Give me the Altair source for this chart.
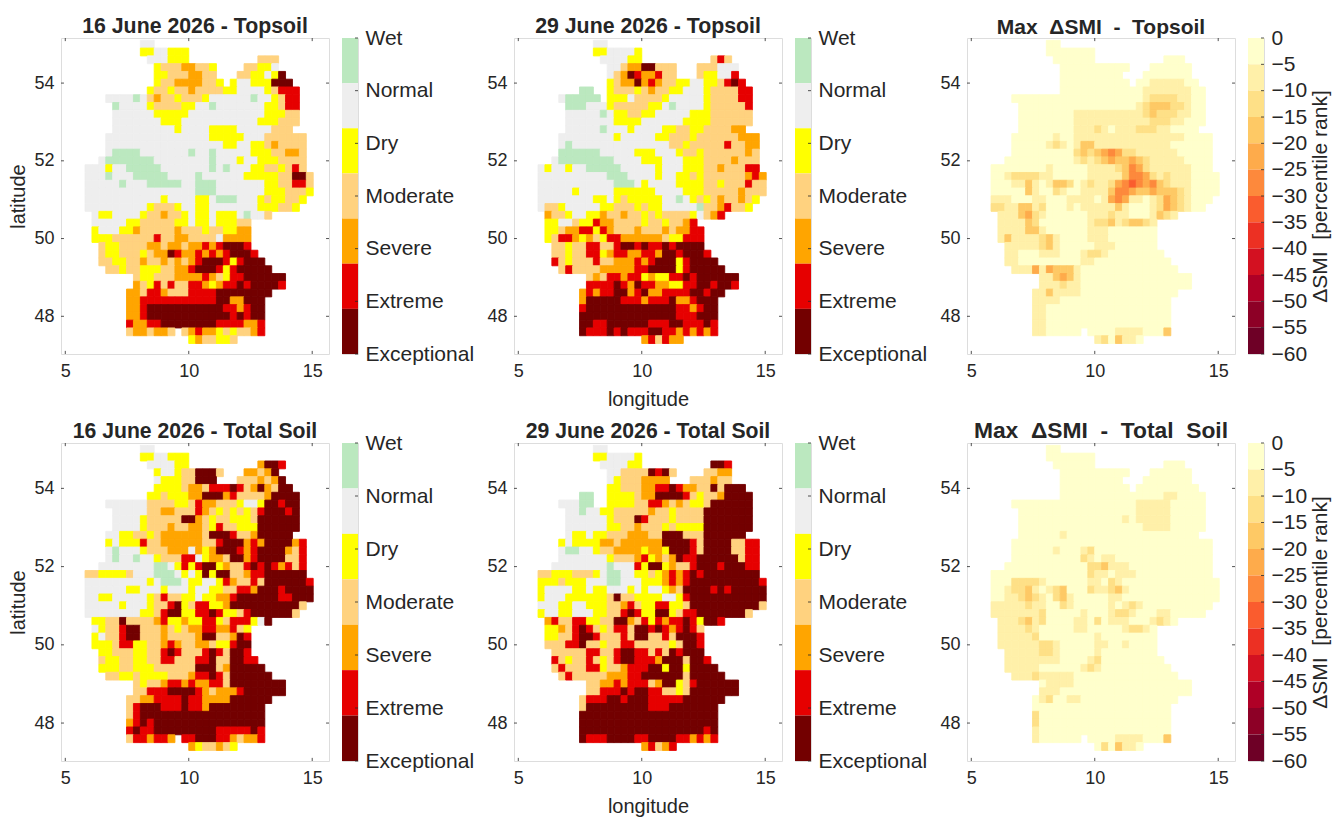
import altair as alt
import pandas as pd

LON0, DLON = 5.8, 0.28
LAT0, DLAT = 55.1, 0.2

TOP_JUN16 = [
"........NN",
"........DDNNDDD",
".........NNNDDD..........MMM",
"..........DMMMSSMMD....MMDDN",
"..........DDMMMSSMM...MMDDNDX",
"..........DMMSSSSMMD.DNNDDDXXX",
".........DMMDMMSMMMMDDNNNNDMEEE",
"...NNNNWNMSMMDMMMDNNNNNNWNNDMEE",
"....WNNNNDMMMMDDNNWNNNNNNNDDMEE",
"....NNNNNNDDDDDNNNNNNNNNNNDDDMM",
"....NNNNNNNDDDNNNNNNNNNNNDDDMMM",
"....NNNNNNNNNDNNNNDDDDNNNNNMMM",
"...NNNNNNNNNNNNNNNDDDDDNNNMMMMMM",
"...NNNNNNNNNNNNNNNNNDDNNDDMSMMMM",
"...NWWWWNNNNNNNWNNWNNNNNDDDMMSSM",
"..NWWWWWWWNNNNNNNNWNNNDNNDDDMMMM",
"NNNDNNWWWWWNNNNNNNWNWNNNDDMMDMEM",
"NNNWNNNWWWWWNNNNWNNNNNNDDDDDMMXXM",
"NNNNNWNNNWWWWWNNWWWNNNNNNNDDMMEEM",
"NNNNNNNNNNNNNNNNWWWNNNNNNNDDDMMMD",
"NNNNNNNNNNNDNNNNDDNWWWNNNDMDDMMD",
"NNNNNNNNNDMMMDNNDDNNNNNNNDDDMMD",
".NDDNNNNDMMSMMDNDDNDDDNWNNM",
".NNNNNDDMMMMMDDNDDNDDDMM",
".DNNNDDSMMMMMSMMMDMMDDSS",
".DDDMMMMMMEMMSSMMMMNSSSS",
"..MDDMMMMSSMSSMSSESEXXXE",
"..MDDMMMDMSSXESSESESEXXXE",
"..MMDDMMSMMSMSMSEXXXEDEXXX",
"...MMDMMDDDMMSSEXXXEDEXXXXX",
".......MDDMMMSSSSESMDEEXXXXXX",
".......SMDEMEMMEESDSEEXEXXXXE",
"......SSMEESMMMEEEEXXXXXXXX",
"......SSEEEEEEEEEEEXXSSXXX",
"......SSEXXXXXXXXXXXEESEXX",
"......SSEXXXXXXXXXXXXEXEXX",
"......ESSEEXXXXXXXXEEEESSE",
"......MSSMSSM.MSESSDMDMMSE",
"...............DSMMDDM",
]

TOP_JUN29 = [
"........NN",
"........DDNNNND",
".........NNNNDD..........MEM",
"..........NNMSSXXMMM...MMMNNN",
"..........NMSXESSEMM...MDDNNE",
"..........DMSSXSESMMDDNNDDMEXE",
"......WW..DMMMDMSMMDDNNNDMMMMEE",
"...NWWWWW.DDDNMMMMDNNNNNDMMMMEE",
"....WWWNNNDMMMMMDDNWNNNNDMMMMME",
"....NNNNNWNDDMMDDNNNNNDDDMMMMMM",
"....NNNNNNNDDDDNNNNNNDDDDMMMMMM",
"....NNNNNWNNNDNNNNDDMMDDMMMMSS",
"...NNNNNNNNDNNNNNDDMMMDMMMMMMSSS",
"...NWNNNNNNNNNNNNNNMMDMMMMMEMMSS",
"...WWWWWWNNNNNDDDNNNDMMDMMMMMMSM",
"..NWWWWWWWWNNNNDDDNNNDDDMMMMSMMM",
"NDNNDNNWWWWWNNNNNDNNNDDDMMSMMMEE",
"NNNNNNNNNNWWWNNNNDNNDDMDMMMMMMSES",
"NNNNNNNNNNNWWWNDNNNNDDDDMMDMMMEMM",
"NNNNNDNNNNNDDDDDDNNNNDDDMMMMMSMMM",
"NNNNNNNNDDNDMDDDDDNNWNDMDMSMMSMD",
"NMMDNNNNNDDMMMDMDDNNNNNWMMSEMMD",
".SMMDNNDDSMMSMMDMDMMMMDNMSE",
".DDNNMDDESSMMMMDMMDMMSE",
".DDMSSEEDESMMMSMMMSMSSEE",
".DMEESDSMDEESSSSSSMDDEEE",
"..MMDMMEEMMEXXEXEEXEXXXX",
"..MMDMMEEDSEESSEESXXEXXXE",
"..EMDMMMEMMSSSESEXXXDEXXXX",
"...MEMMMMSSSSSEEXXXXDEXXXXX",
".......MSMEESEEDSDDEEXEXXXXXX",
".......EEEEXESXEESSDDEEXXEXXE",
"......SESEEXXSEXSSEEEEXXEXX",
"......SXXXXXEEESEEEXSSEXXX",
"......EXXXXXXXXXXXXXEESEXX",
"......XXXXXXXXXXXXXXEEEXXX",
"......XXEEXXXXXXEEEXXEEEXE",
"......XEEEXEXEEEXXEESESESE",
"...............SEMESS",
]

TOTAL_JUN16 = [
"........NN",
"........DDNNDDD",
".........NNNNDD..........SXXE",
"..........DNNDMMXXXM...SSMSX",
"..........NDDDMMXXX...MMMSMSX",
"..........DDDDMSSMEEEXEMSXSMXX",
".........DDMDDDSSXXXSEMMMMSXXXX",
"...NNNNNNMMMMDDMESSMMMDNNDXXEXX",
"....NNNNNMMSSMMMESMDMDMDMEXXXEX",
"....NNNNDMMMMMXXSMDMMDDDMXXXXXX",
"....NNNNDMMMSMMSSMDEMMDDDXXXXXX",
"...NNDDMMDMSSSSSSMXXXEMMSXXXXX",
"...DNDDDEMMSSSSSSMMEXXXSESXXXXSE",
"...NWNNNDMMMSSSNSDSXXXESEXXXXSME",
"...NWNNWNNDMMMEENDSSMXXSEXXXXMME",
"..NNNNNNNNWWNDEDEXXDSMMEXEXESEME",
"MMDDDDMNNNWWWNDNDXDXXMMSEEXXXXXX",
"NNNNNNNNNDNWWWNDDNNDESMMEMXXXXXXE",
"NNNNNNDDNNNDNNNDNNDDMMEESXXXEXXXX",
"NNDDNNNNNDMEMMDDNDDSSEXXXXXXEEXXX",
"NNNNNDNNNDMMEXDMEEDDSXXXXXXXXXXM",
"NNNNNNNNDDMEXXDDEEXEDDMEXXXXXXM",
".DDMMXMMMMSEDDSDDEEDMEEEDNX",
".NDMMEXXMMMSMDMSSEESSEMD",
".DNMMEXXMMMSMMMMSXXMMSXE",
".DDDMEEDDMMSESMMSSMDDEXX",
"..DDMMMDDMMEXEMMMEXEMXXE",
"..MDDMMDDMMEEMMMEEXMMXXEE",
"..DDDMMDDDMMMMMMXXXMSXXXXX",
"...MMDDMDDDDMMMSEEXEMXXXXXX",
".......MDMMSEESESSEEMXXXXXXXX",
".......MMEEEXXXXESMSSSEXXXXXX",
"......MMSSEEEEXEESSSSXXXXXX",
"......MEXXXEEEXEESXXXXXXXX",
"......MEXXXXXXXXXXXXXXXXXX",
"......SEXEXXXXXXXXXXXXXXXX",
"......EXEEXXXXXXXXXEEEEEXE",
"......MEESEES.EEXXXEESMSSE",
"...............SDMMSMD",
]

TOTAL_JUN29 = [
"........NN",
"........DDNNNND",
".........NNNNDD..........XXE",
"..........NNMMMMXEXM....MMSS",
"..........NDMMMSSSS...MMMSMM",
"..........DDMMMSSEEXESSMMXMXXX",
"......WW..DDDDMSSXXXXEMDMMSXXXX",
"...NNNWW..DDDDMMEESMSMDDMXXXXXX",
"....NNWNNDDMMMMMSMMDMMMMXXXXXXX",
"....NNNNNNDMMMXEMMMDMMMMXXXXXXX",
"....NNNNNNDDMMSMMMDMDDDDXXXXXXX",
"....NDDNDDMMMSSSMMXXXMMMXXXXXX",
"...DNDDDDSSMSSSSSSXXXXEMXXXXMMEE",
"...NWWNNDMMSSSSDSSDXXXEMXXXXMMEE",
"...NNNNNNNDMMMSEDSMSXEEXXXXXXMEE",
"..NNNNNNNNWNNNEDXXDSMMEXXXEXXXEE",
"MMDDDMMMDNWWNNDDMDSESEXEXXXXXXXX",
"DDDMDDDNNNWWNNNDDDSESEXXXXXXXXXXE",
"DNNNNDDNDDNNNDNDNNDSMXXXXEXEXXXXX",
"DNNNDDDDDDMXMMDDDDNNDEXXXXXXXXXXX",
"NNNDDNNDDDMMSEMDDEEDDMXXXXXXXXXXM",
"DNNDDNNNDDMMEXEDDXXDMEEXXXXXXXM",
".SEMMEEDDMMXXSMEDESEEXEDXXE",
".DDSMEXEMDMEEMXXEXESEXEM",
".DDMMEXXEMMMEMXXMMEMXXXE",
".MMMEEXMMDMMEEMMMMMDMXXE",
"..MMMMMEEMMEXXEEMEMXEXXX",
"..EMDMMEMDMEXXEEESXXXMXXE",
"..MEMMMEEDMMSEEEXXDXXDXXXX",
"...MEMMMMMSSSEEXXXXXXMXXXXX",
".......MMSSESEEEMSXXDMEXXXXXX",
".......MMEEEXEXXEEMMDMXXXXXXX",
"......MEEEXXEXXXEEEEEXXXXXX",
"......MXXXXXXXXXEEEXXXXXXX",
"......XXXXXXXXXXXXXXXXXXXX",
"......XXXXXXXXXXXXXXXXXXXX",
"......XXXXXXXXXXXXXXXXXXEX",
"......XEEEXXXXEEXXXXEESESE",
"...............SEMSE",
]

DELTA_TOP = [
"........00",
"........0000000",
".........000000..........000",
"..........0000000000...000000",
"..........000000000...0000000",
"..........0000000000.001111100",
"..........000000000000111111100",
"...0000000000000000000122221100",
"....000000000000000001233322100",
"....000000001111111111232221100",
"....000000001111111111122211000",
"....00000000111210111222110000",
"...00000010011111111111111110000",
"...00000121013311111111111000000",
"...00000000023234542211111100000",
"..000000000012123433432111110000",
"00000000100000111123542111111000",
"001222211000001111135542121110000",
"000113101332012112456545321110000",
"000003100210011113554334333210000",
"11100011000111101454110124321000",
"2211331200010111113100012432100",
".11134210000001112110001321",
".11113200000001223123321",
".11113310000001110000000",
".13111123100001110000000",
"..1111123100000111000000",
"..11000111000122100000000",
"..110000000001100000000000",
"...111414333100000000000000",
".......1134310000000000000000",
".......1112110000000000000000",
"......113111100000000000000",
"......11110000000000000000",
"......11000000000000000000",
"......11000000000000000000",
"......11000000000000000000",
"......1100000.000011110003",
"...............1203110",
]

DELTA_TOTAL = [
"........00",
"........0000000",
".........000000..........000",
"..........0000000000...000000",
"..........000000000...0000000",
"..........0000000000.000000000",
"..........000000000000000110000",
"...0000000000000000001111100000",
"....000000000000000001111100000",
"....000000000000000101111100000",
"....000000000000000000111100000",
"....00000010000000000000000000",
"...00000000000000000000000000000",
"...00000010001200000000000000000",
"...00000000002101100000000000000",
"..000000000000223111000000000000",
"00000000000000211011100000000000",
"000222210000001102100000000000000",
"001223101230002112310000000000000",
"001123210231000001100000000000000",
"11111211002100000101210000000000",
"1111111200000100012210001100000",
".11123120000110201110001210",
".11112100000110000012210",
".11111200000000100000000",
".11111122100000110010000",
"..1111122100000100000000",
"..11111111000012000000000",
"..111110000001210000000000",
"...111211111000000000000000",
".......0111100000000000000000",
".......1110000000000000000000",
"......012001100000000000000",
"......00000000000000000000",
"......20000000000000000000",
"......20000000000000000000",
"......10000000000000000000",
"......1000000.000011110003",
"...............0203110",
]

DROUGHT_KEYS = list("WNDMSEX")
DROUGHT_NAMES = ["Wet", "Normal", "Dry", "Moderate", "Severe", "Extreme", "Exceptional"]
DROUGHT_COLOURS = ["#BBE8BF", "#EEEEEE", "#FFFF00", "#FFD27F", "#FFA500", "#E60000", "#730000"]
DELTA_KEYS = list("0123456789ab")
DELTA_COLOURS = ["#FFFFCC", "#FFF0A9", "#FEE087", "#FEC965", "#FEAB4B", "#FD893C",
                 "#FA5C2E", "#EC3023", "#D31121", "#AF0026", "#8D0026", "#6E0026"]
DELTA_TICKS = [0, -5, -10, -15, -20, -25, -30, -35, -40, -45, -50, -55, -60]
LON_TICKS = [5, 10, 15]
LAT_TICKS = [48, 50, 52, 54]

LON_DOMAIN = [4.826, 15.68]
LAT_DOMAIN = [47.03, 55.16]
FONT = "Liberation Sans"
INK = "#262626"
FRAME = "#808080"


def cells(rows, keys, colours):
    lut = dict(zip(keys, colours))
    out = []
    for j, row in enumerate(rows):
        for i, c in enumerate(row[:33]):
            if c != ".":
                out.append({
                    "lon": LON0 + DLON * i, "lon2": LON0 + DLON * (i + 1),
                    "lat": LAT0 - DLAT * j, "lat2": LAT0 - DLAT * (j + 1), "c": lut[c],
                })
    return pd.DataFrame(out)


def map_panel(rows, keys, colours, title, title_size, h, xtitle=None, ytitle=None):
    sx = alt.Scale(domain=LON_DOMAIN, nice=False, zero=False)
    sy = alt.Scale(domain=LAT_DOMAIN, nice=False, zero=False)
    ax = alt.Axis(values=LON_TICKS, grid=False, ticks=False, domain=False, labelFontSize=18,
                  labelPadding=8, labelColor=INK, labelFont=FONT, title=xtitle, titleFontSize=20,
                  titleFontWeight="normal", titleColor=INK, titleFont=FONT, titlePadding=9)
    ay = alt.Axis(values=LAT_TICKS, grid=False, ticks=False, domain=False, labelFontSize=18,
                  labelPadding=7, labelColor=INK, labelFont=FONT, title=ytitle, titleFontSize=20,
                  titleFontWeight="normal", titleColor=INK, titleFont=FONT, titlePadding=5)
    rect = alt.Chart(cells(rows, keys, colours)).mark_rect(strokeWidth=0.9).encode(
        x=alt.X("lon:Q", scale=sx, axis=ax),
        x2="lon2:Q",
        y=alt.Y("lat:Q", scale=sy, axis=ay),
        y2="lat2:Q",
        color=alt.Color("c:N", scale=None),
        stroke=alt.Stroke("c:N", scale=None),
    )
    tx = pd.DataFrame([{"v": v, "a": a, "b": b} for v in LON_TICKS
                       for a, b in [(LAT_DOMAIN[0], LAT_DOMAIN[0] + 0.08),
                                    (LAT_DOMAIN[1] - 0.08, LAT_DOMAIN[1])]])
    ty = pd.DataFrame([{"v": v, "a": a, "b": b} for v in LAT_TICKS
                       for a, b in [(LON_DOMAIN[0], LON_DOMAIN[0] + 0.12),
                                    (LON_DOMAIN[1] - 0.12, LON_DOMAIN[1])]])
    xt = alt.Chart(tx).mark_rule(color=INK, strokeWidth=0.8).encode(
        x=alt.X("v:Q", scale=sx, axis=ax), y=alt.Y("a:Q", scale=sy, axis=ay), y2="b:Q")
    yt = alt.Chart(ty).mark_rule(color=INK, strokeWidth=0.8).encode(
        y=alt.Y("v:Q", scale=sy, axis=ay), x=alt.X("a:Q", scale=sx, axis=ax), x2="b:Q")
    return alt.layer(rect, xt, yt).properties(
        width=268, height=h,
        title=alt.TitleParams(title, fontSize=title_size, fontWeight="bold", color=INK,
                              font=FONT, offset=0))


def bar_chart(df, domain, values, expr, h, title=None):
    sy = alt.Scale(domain=domain, nice=False, zero=False)
    ay = alt.Axis(orient="right", values=values, labelExpr=expr, labelOverlap=False, grid=False,
                  ticks=False, domain=False, labelFontSize=21, labelColor=INK, labelFont=FONT,
                  labelPadding=7, labelFlush=False, labelBound=False, title=title, titleFontSize=21,
                  titleAngle=270, titleFontWeight="normal", titleColor=INK, titleFont=FONT,
                  titlePadding=24)
    bars = alt.Chart(df).mark_rect().encode(
        y=alt.Y("lo:Q", scale=sy, axis=ay),
        y2="hi:Q",
        color=alt.Color("c:N", scale=None),
    )
    tk = alt.Chart(pd.DataFrame({"v": values})).mark_rule(color=INK, strokeWidth=0.8).encode(
        y=alt.Y("v:Q", scale=sy, axis=ay), x=alt.value(13), x2=alt.value(16))
    return alt.layer(bars, tk).properties(width=16, height=h)


def drought_bar(h):
    n = len(DROUGHT_KEYS)
    df = pd.DataFrame({"lo": [n - i - 1 for i in range(n)], "hi": [n - i for i in range(n)],
                       "c": DROUGHT_COLOURS})
    vals = [(n - 1 - i) * n / (n - 1) for i in range(n)]
    names = ",".join("'%s'" % s for s in DROUGHT_NAMES[::-1])
    expr = "[%s][round(datum.value*%d/%d)]" % (names, n - 1, n)
    return bar_chart(df, [0, n], vals, expr, h)


def delta_bar(h):
    df = pd.DataFrame({"lo": [DELTA_TICKS[i + 1] for i in range(12)],
                       "hi": [DELTA_TICKS[i] for i in range(12)], "c": DELTA_COLOURS})
    return bar_chart(df, [-60, 0], DELTA_TICKS, "datum.label", h,
                     "\u0394SMI\u00a0\u00a0[percentile rank]")


def group(m, b):
    return alt.hconcat(m, b, spacing=11)


H1, H2 = 316, 318
row1 = alt.hconcat(
    group(map_panel(TOP_JUN16, DROUGHT_KEYS, DROUGHT_COLOURS, "16 June 2026 - Topsoil", 21.3, H1, ytitle="latitude"), drought_bar(H1)),
    group(map_panel(TOP_JUN29, DROUGHT_KEYS, DROUGHT_COLOURS, "29 June 2026 - Topsoil", 21.3, H1, xtitle="longitude"), drought_bar(H1)),
    group(map_panel(DELTA_TOP, DELTA_KEYS, DELTA_COLOURS, "Max\u00a0\u00a0\u0394SMI\u00a0\u00a0-\u00a0\u00a0Topsoil", 21, H1), delta_bar(H1)),
    spacing=11,
)
row2 = alt.hconcat(
    group(map_panel(TOTAL_JUN16, DROUGHT_KEYS, DROUGHT_COLOURS, "16 June 2026 - Total Soil", 21.2, H2, ytitle="latitude"), drought_bar(H2)),
    group(map_panel(TOTAL_JUN29, DROUGHT_KEYS, DROUGHT_COLOURS, "29 June 2026 - Total Soil", 21.2, H2, xtitle="longitude"), drought_bar(H2)),
    group(map_panel(DELTA_TOTAL, DELTA_KEYS, DELTA_COLOURS, "Max\u00a0\u00a0\u0394SMI\u00a0\u00a0-\u00a0\u00a0Total\u00a0\u00a0Soil", 22.8, H2), delta_bar(H2)),
    spacing=11,
)
chart = alt.vconcat(row1, row2, spacing=9).properties(
    padding={"left": 0, "top": 7, "right": 0, "bottom": 0}
).configure_view(stroke=FRAME, strokeWidth=1).configure(background="white")
chart.save("out.html", embed_options={"renderer": "svg", "actions": False})
